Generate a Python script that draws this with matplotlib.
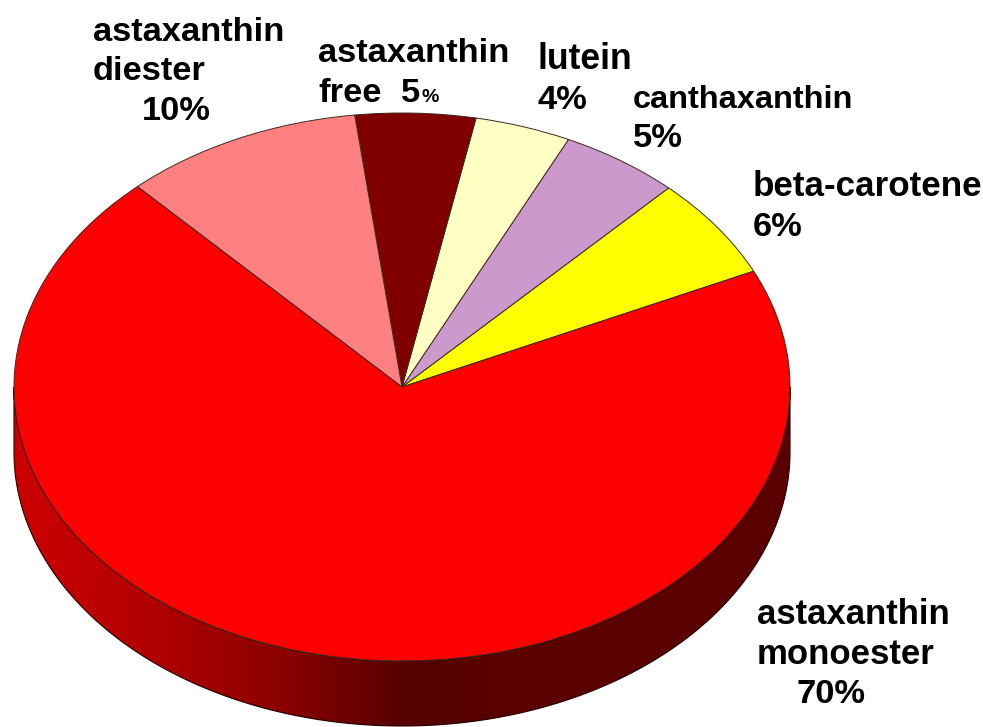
import numpy as np
import matplotlib
matplotlib.use("Agg")
import matplotlib.pyplot as plt
from matplotlib.colors import LinearSegmentedColormap
from matplotlib.patches import Polygon

# Slice shares, counter-clockwise from the start angle
slice_names = ["beta-carotene", "canthaxanthin", "lutein", "astaxanthin free",
               "astaxanthin diester", "astaxanthin monoester"]
slice_shares = [6, 5, 4, 5, 10, 70]
slice_colors = ["#ffff00", "#cc99cc", "#ffffc4", "#800000", "#ff8080", "#ff0000"]

W, H = 983, 727
CX, CY, RX, RY, DEPTH = 402, 387, 388, 274, 65
START = 25

fig = plt.figure(figsize=(W / 100, H / 100), dpi=100, facecolor="white")
ax = fig.add_axes([0, 0, 1, 1])

# Side wall, shaded left to right
wall_cmap = LinearSegmentedColormap.from_list("wall", [
    (0.00, "#cd0000"), (0.18, "#b00000"), (0.35, "#8a0000"),
    (0.50, "#560000"), (0.65, "#5a0000"), (1.00, "#5c0000")])
d = DEPTH / RY
t = np.linspace(np.pi, 2 * np.pi, 400)
outer = np.column_stack([np.cos(t), np.sin(t) - d])
inner = np.column_stack([np.cos(t[::-1]), np.sin(t[::-1])])
wall = Polygon(np.vstack([outer, inner]), closed=True, facecolor="none",
               edgecolor="#200000", linewidth=0.8, zorder=2, transform=ax.transData)
ax.add_patch(wall)
img = ax.imshow(np.linspace(0, 1, 512).reshape(1, -1), extent=(-1, 1, -1 - d, 0),
                cmap=wall_cmap, aspect="auto", zorder=1, interpolation="bilinear")
img.set_clip_path(wall)

ax.pie(slice_shares, colors=slice_colors, startangle=START, counterclock=True, radius=1,
       wedgeprops=dict(edgecolor="#3a2a20", linewidth=0.7, zorder=3))

ax.set_aspect("auto")
ax.set_xlim(-CX / RX, (W - CX) / RX)
ax.set_ylim((CY - H) / RY, CY / RY)
ax.axis("off")

SIZE = 24.8
labels = [
    ("astaxanthin", 93, 41, SIZE), ("diester", 93, 80, SIZE), ("10%", 142, 120, SIZE),
    ("astaxanthin", 318, 62, SIZE), ("free", 318, 102, SIZE), ("5", 401, 102, SIZE), ("%", 421, 102, 14),
    ("lutein", 537, 69, 25.6), ("4%", 537, 109, SIZE),
    ("canthaxanthin", 633, 108, 23.4), ("5%", 633, 147, SIZE),
    ("beta-carotene", 753, 196, 25.2), ("6%", 753, 236, SIZE),
    ("astaxanthin", 757, 624, 25.0), ("monoester", 757, 664, 25.0), ("70%", 797, 703, SIZE),
]
for s, x, y, size in labels:
    fig.text(x / W, 1 - y / H, s, fontsize=size, fontweight="bold",
             family="Liberation Sans", color="black", ha="left", va="baseline")

fig.savefig("out.png", dpi=100, facecolor="white")
